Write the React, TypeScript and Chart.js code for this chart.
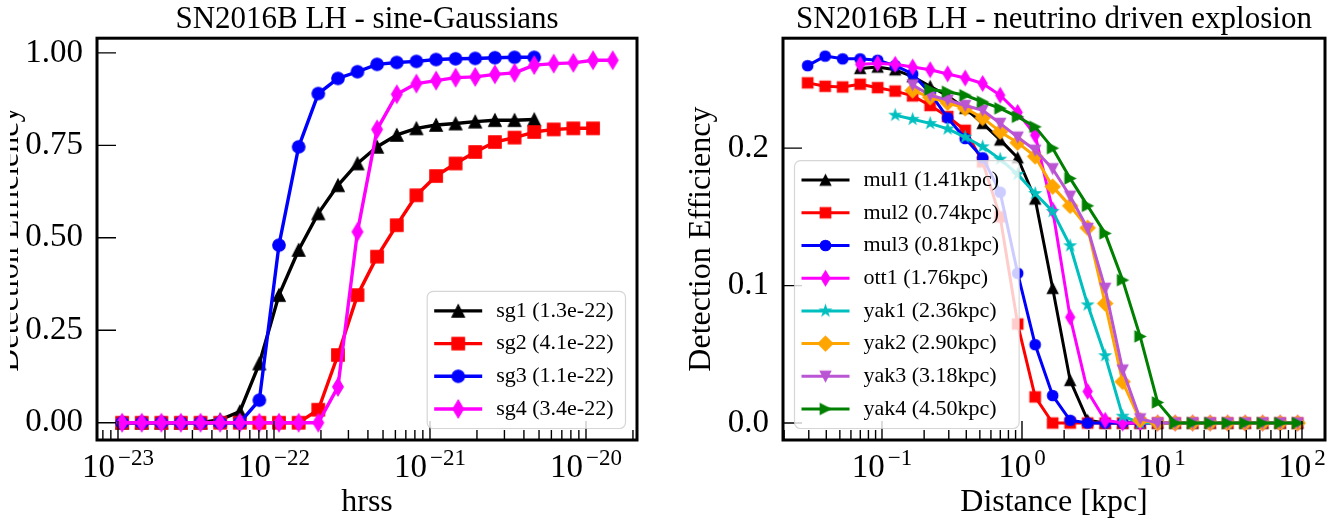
import React, { useEffect, useRef } from 'react';
import { Chart, registerables } from 'chart.js';

Chart.register(...registerables);

const FONT = '"Liberation Serif", "DejaVu Serif", serif';

// ---------------- Left panel: sine-Gaussians ----------------
const LEFT_TITLE = 'SN2016B LH - sine-Gaussians';
const LEFT_XLABEL = 'hrss';
const LEFT_YLABEL = 'Detection Efficiency';
const HRSS = [
  1.062e-23, 1.419e-23, 1.897e-23, 2.529e-23, 3.381e-23, 4.519e-23, 6.039e-23, 8.054e-23,
  1.076e-22, 1.439e-22, 1.923e-22, 2.57e-22, 3.428e-22, 4.581e-22, 6.124e-22, 8.185e-22,
  1.094e-21, 1.459e-21, 1.95e-21, 2.606e-21, 3.483e-21, 4.656e-21, 6.209e-21, 8.299e-21,
  1.109e-20, 1.483e-20,
];
const SG1 = [0, 0, 0, 0, 0, 0.008, 0.03, 0.16, 0.345, 0.467, 0.566, 0.642, 0.701, 0.746, 0.778, 0.796, 0.805, 0.809, 0.814, 0.818, 0.818, 0.82];
const SG2 = [0, 0, 0, 0, 0, 0, 0, 0, 0, 0, 0.035, 0.183, 0.345, 0.449, 0.534, 0.615, 0.667, 0.701, 0.732, 0.759, 0.771, 0.786, 0.793, 0.796, 0.796];
const SG3 = [0, 0, 0, 0, 0, 0, 0, 0.061, 0.48, 0.746, 0.89, 0.931, 0.949, 0.969, 0.974, 0.977, 0.982, 0.984, 0.985, 0.987, 0.988, 0.988];
const SG4 = [0, 0, 0, 0, 0, 0, 0, 0, 0, 0, 0, 0.097, 0.516, 0.793, 0.888, 0.917, 0.925, 0.933, 0.935, 0.942, 0.946, 0.967, 0.971, 0.973, 0.98, 0.98];
const SG_LABELS = ['sg1 (1.3e-22)', 'sg2 (4.1e-22)', 'sg3 (1.1e-22)', 'sg4 (3.4e-22)'];
const SG_COLORS = ['#000000', '#ff0000', '#0000ff', '#ff00ff'];
const SG_MARKERS = ['^', 's', 'o', 'd'];
const LEFT_Y_TICKS = [0, 0.25, 0.5, 0.75, 1.0];
const LEFT_X_EXPONENTS = [-23, -22, -21, -20];
const LEFT_X_RANGE = [7.336e-24, 2.123e-20];
const LEFT_Y_RANGE = [-0.0468, 1.0397];

// ---------------- Right panel: neutrino driven explosion ----------------
const RIGHT_TITLE = 'SN2016B LH - neutrino driven explosion';
const RIGHT_XLABEL = 'Distance [kpc]';
const RIGHT_YLABEL = 'Detection Efficiency';
const DIST = [
  0.02944, 0.03926, 0.05236, 0.06982, 0.09311, 0.1242, 0.1656, 0.2208, 0.2944, 0.3926,
  0.5236, 0.6982, 0.9311, 1.242, 1.656, 2.208, 2.944, 3.926, 5.236, 6.982, 9.311, 12.42,
  16.56, 22.08, 29.44, 39.26, 52.36, 69.82, 93.11,
];
const MUL1_D = DIST.slice(3);
const MUL1 = [0.258, 0.259, 0.257, 0.252, 0.245, 0.238, 0.229, 0.218, 0.206, 0.193, 0.163, 0.098, 0.031, 0.002, 0, 0, 0, 0, 0, 0, 0, 0, 0, 0, 0, 0];
const MUL2_D = DIST.slice(0);
const MUL2 = [0.2475, 0.245, 0.2445, 0.2465, 0.244, 0.2415, 0.238, 0.231, 0.223, 0.213, 0.19, 0.15, 0.072, 0.019, 0, 0, 0, 0, 0, 0, 0, 0, 0, 0, 0, 0, 0, 0, 0];
const MUL3_D = DIST.slice(0);
const MUL3 = [0.26, 0.267, 0.265, 0.265, 0.264, 0.26, 0.254, 0.24, 0.222, 0.207, 0.193, 0.168, 0.109, 0.057, 0.02, 0.002, 0, 0, 0, 0, 0, 0, 0, 0, 0, 0, 0, 0, 0];
const OTT1_D = DIST.slice(3);
const OTT1 = [0.261, 0.2616, 0.261, 0.259, 0.257, 0.254, 0.251, 0.247, 0.2385, 0.226, 0.2095, 0.155, 0.077, 0.023, 0.002, 0, 0, 0, 0, 0, 0, 0, 0, 0, 0, 0];
const YAK1_D = DIST.slice(5);
const YAK1 = [0.224, 0.221, 0.218, 0.214, 0.208, 0.201, 0.192, 0.181, 0.167, 0.154, 0.129, 0.086, 0.049, 0.005, 0, 0, 0, 0, 0, 0, 0, 0, 0, 0];
const YAK2_D = DIST.slice(6);
const YAK2 = [0.242, 0.237, 0.233, 0.229, 0.222, 0.212, 0.204, 0.194, 0.172, 0.158, 0.142, 0.087, 0.03, 0.002, 0, 0, 0, 0, 0, 0, 0, 0, 0];
const YAK3_D = DIST.slice(6);
const YAK3 = [0.246, 0.2385, 0.235, 0.231, 0.2276, 0.218, 0.208, 0.1985, 0.185, 0.165, 0.1416, 0.098, 0.0385, 0.003, 0, 0, 0, 0, 0, 0, 0, 0, 0];
const YAK4_D = DIST.slice(7);
const YAK4 = [0.2427, 0.241, 0.2385, 0.2337, 0.229, 0.2228, 0.2155, 0.2, 0.178, 0.158, 0.138, 0.104, 0.063, 0.015, 0, 0, 0, 0, 0, 0, 0, 0];
const NU_LABELS = ['mul1 (1.41kpc)', 'mul2 (0.74kpc)', 'mul3 (0.81kpc)', 'ott1 (1.76kpc)', 'yak1 (2.36kpc)', 'yak2 (2.90kpc)', 'yak3 (3.18kpc)', 'yak4 (4.50kpc)'];
const NU_COLORS = ['#000000', '#ff0000', '#0000ff', '#ff00ff', '#00bfbf', '#ffa500', '#ba55d3', '#008000'];
const NU_MARKERS = ['^', 's', 'o', 'd', '*', 'D', 'v', '>'];
const RIGHT_Y_TICKS = [0, 0.1, 0.2];
const RIGHT_X_EXPONENTS = [-1, 0, 1, 2];
const RIGHT_X_RANGE = [0.01963, 146.0];
const RIGHT_Y_RANGE = [-0.01236, 0.28];

// ---------------- helpers ----------------
function makeMarker(shape: string, color: string, ms: number): HTMLCanvasElement {
  const edge = 1.2;
  const size = Math.ceil(ms * 1.6 + 4);
  const c = document.createElement('canvas');
  c.width = size;
  c.height = size;
  const g = c.getContext('2d') as CanvasRenderingContext2D;
  const m = size / 2;
  const h = ms / 2;
  g.fillStyle = color;
  g.strokeStyle = color;
  g.lineWidth = edge;
  g.lineJoin = 'miter';
  g.beginPath();
  if (shape === 'o') {
    g.arc(m, m, h, 0, Math.PI * 2);
  } else if (shape === 's') {
    g.rect(m - h, m - h, ms, ms);
  } else if (shape === '^') {
    g.moveTo(m, m - h); g.lineTo(m + h, m + h); g.lineTo(m - h, m + h);
  } else if (shape === 'v') {
    g.moveTo(m, m + h); g.lineTo(m + h, m - h); g.lineTo(m - h, m - h);
  } else if (shape === '>') {
    g.moveTo(m + h, m); g.lineTo(m - h, m - h); g.lineTo(m - h, m + h);
  } else if (shape === 'd') {
    const dy = ms * 0.707, dx = dy * 0.6;
    g.moveTo(m, m - dy); g.lineTo(m + dx, m); g.lineTo(m, m + dy); g.lineTo(m - dx, m);
  } else if (shape === 'D') {
    const d = ms * 0.707;
    g.moveTo(m, m - d); g.lineTo(m + d, m); g.lineTo(m, m + d); g.lineTo(m - d, m);
  } else if (shape === '*') {
    const ro = h * 1.05, ri = ro * 0.382;
    for (let i = 0; i < 10; i++) {
      const r = i % 2 === 0 ? ro : ri;
      const ang = -Math.PI / 2 + (i * Math.PI) / 5;
      const px = m + r * Math.cos(ang), py = m + r * Math.sin(ang);
      if (i === 0) g.moveTo(px, py); else g.lineTo(px, py);
    }
  }
  g.closePath();
  g.fill();
  g.stroke();
  return c;
}

function drawPow(ctx: CanvasRenderingContext2D, x: number, baseY: number, exp: number) {
  const base = '10';
  const sup = exp < 0 ? '\u2212' + Math.abs(exp) : String(exp);
  ctx.font = `33px ${FONT}`;
  const wb = ctx.measureText(base).width;
  ctx.font = `23px ${FONT}`;
  const ws = ctx.measureText(sup).width;
  const gap = 3;
  const x0 = x - (wb + gap + ws) / 2;
  ctx.textAlign = 'left';
  ctx.textBaseline = 'alphabetic';
  ctx.font = `33px ${FONT}`;
  ctx.fillText(base, x0, baseY);
  ctx.font = `23px ${FONT}`;
  ctx.fillText(sup, x0 + wb + gap, baseY - 12);
}

const axesDecor = {
  id: 'axesDecor',
  afterDatasetsDraw(chart: any, _args: any, opts: any) {
    const { ctx, chartArea: a } = chart;
    const xs = chart.scales.x;
    const ys = chart.scales.y;
    ctx.save();
    ctx.strokeStyle = '#000';
    ctx.lineWidth = 1.4;
    ctx.beginPath();
    for (const v of opts.yTicks) {
      const y = ys.getPixelForValue(v);
      ctx.moveTo(a.left, y);
      ctx.lineTo(a.left + 19, y);
    }
    const exps: number[] = opts.xExps;
    for (let e = exps[0] - 1; e <= exps[exps.length - 1] + 1; e++) {
      for (let m = 1; m <= 9; m++) {
        const v = m * Math.pow(10, e);
        if (v < xs.min || v > xs.max) continue;
        const x = xs.getPixelForValue(v);
        ctx.moveTo(x, a.bottom);
        ctx.lineTo(x, a.bottom - (m === 1 ? 19 : 10));
      }
    }
    ctx.stroke();
    ctx.lineWidth = 3;
    ctx.strokeRect(a.left, a.top, a.right - a.left, a.bottom - a.top);
    ctx.fillStyle = '#000';
    for (const e of exps) drawPow(ctx, xs.getPixelForValue(Math.pow(10, e)), opts.labelBaseline, e);
    ctx.restore();
  },
};

const mplLegend = {
  id: 'mplLegend',
  afterDraw(chart: any, _args: any, opts: any) {
    const { ctx, chartArea: a } = chart;
    const ds = chart.data.datasets;
    ctx.save();
    ctx.font = `22px ${FONT}`;
    let tw = 0;
    for (const d of ds) tw = Math.max(tw, ctx.measureText(d.label).width);
    const padL = 7, handle = 48, gap = 14, padR = opts.padR, row = 32.7, padV = 19.5;
    const w = padL + handle + gap + tw + padR;
    const h = padV * 2 + row * (ds.length - 1);
    const x0 = opts.corner === 'lowerRight' ? a.right - opts.inset - w : a.left + opts.inset;
    const y0 = a.bottom - opts.inset - h;
    const r = 6;
    ctx.beginPath();
    ctx.moveTo(x0 + r, y0);
    ctx.lineTo(x0 + w - r, y0);
    ctx.arcTo(x0 + w, y0, x0 + w, y0 + r, r);
    ctx.lineTo(x0 + w, y0 + h - r);
    ctx.arcTo(x0 + w, y0 + h, x0 + w - r, y0 + h, r);
    ctx.lineTo(x0 + r, y0 + h);
    ctx.arcTo(x0, y0 + h, x0, y0 + h - r, r);
    ctx.lineTo(x0, y0 + r);
    ctx.arcTo(x0, y0, x0 + r, y0, r);
    ctx.closePath();
    ctx.fillStyle = 'rgba(255,255,255,0.8)';
    ctx.fill();
    ctx.strokeStyle = 'rgba(204,204,204,0.8)';
    ctx.lineWidth = 1.2;
    ctx.stroke();
    ds.forEach((d: any, i: number) => {
      const cy = y0 + padV + i * row;
      ctx.beginPath();
      ctx.strokeStyle = d.borderColor;
      ctx.lineWidth = d.borderWidth;
      ctx.moveTo(x0 + padL, cy);
      ctx.lineTo(x0 + padL + handle, cy);
      ctx.stroke();
      const img = d.pointStyle as HTMLCanvasElement;
      ctx.drawImage(img, x0 + padL + handle / 2 - img.width / 2, cy - img.height / 2);
      ctx.fillStyle = '#000';
      ctx.textAlign = 'left';
      ctx.textBaseline = 'middle';
      ctx.font = `22px ${FONT}`;
      ctx.fillText(d.label, x0 + padL + handle + gap, cy);
    });
    ctx.restore();
  },
};

function buildConfig(p: any) {
  const datasets = p.series.map((s: any, i: number) => ({
    label: s.label,
    data: s.x.map((x: number, j: number) => ({ x, y: s.y[j] })),
    borderColor: s.color,
    backgroundColor: s.color,
    borderWidth: p.lineWidth,
    borderJoinStyle: 'round',
    pointStyle: makeMarker(s.marker, s.color, p.markerSize),
    pointRadius: 5,
    pointHoverRadius: 5,
    tension: 0,
    order: -i,
  }));
  return {
    type: 'line',
    data: { datasets },
    plugins: [axesDecor, mplLegend],
    options: {
      responsive: false,
      animation: false,
      events: [],
      devicePixelRatio: 1,
      layout: { padding: { left: 0, right: p.padRight, top: 0, bottom: 0 } },
      plugins: {
        legend: { display: false },
        tooltip: { enabled: false },
        title: {
          display: true,
          text: p.title,
          color: '#000',
          fullSize: false,
          font: { size: 31, family: FONT, weight: 'normal' },
          padding: { top: 1, bottom: 0 },
        },
        axesDecor: { yTicks: p.yTicks, xExps: p.xExps, labelBaseline: 477 },
        mplLegend: { corner: p.legendCorner, inset: 11.5, padR: p.legendPadR },
      },
      scales: {
        x: {
          type: 'logarithmic',
          min: p.xRange[0],
          max: p.xRange[1],
          grid: { display: false, drawTicks: false },
          border: { display: false },
          ticks: { display: false },
          title: {
            display: true,
            text: p.xLabel,
            color: '#000',
            font: { size: 32, family: FONT },
            padding: { top: 0, bottom: 3 },
          },
          afterFit: (scale: any) => { scale.height = 85; },
        },
        y: {
          type: 'linear',
          min: p.yRange[0],
          max: p.yRange[1],
          grid: { display: false, drawTicks: false },
          border: { display: false },
          afterBuildTicks: (scale: any) => { scale.ticks = p.yTicks.map((v: number) => ({ value: v })); },
          ticks: {
            color: '#000',
            padding: 14,
            font: { size: 33, family: FONT },
            callback: (v: number) => Number(v).toFixed(p.yDecimals),
          },
          title: {
            display: true,
            text: p.yLabel,
            color: '#000',
            font: { size: 32, family: FONT },
            padding: { top: p.yTitleOffset, bottom: 0 },
          },
          afterFit: (scale: any) => { scale.width = p.yAxisWidth; },
        },
      },
    },
  };
}

export default function App() {
  const leftRef = useRef<HTMLCanvasElement>(null);
  const rightRef = useRef<HTMLCanvasElement>(null);

  useEffect(() => {
    Chart.defaults.font.family = FONT;
    Chart.defaults.color = '#000';
    const leftSeries = [SG1, SG2, SG3, SG4].map((y, i) => ({
      label: SG_LABELS[i], x: HRSS.slice(0, y.length), y, color: SG_COLORS[i], marker: SG_MARKERS[i],
    }));
    const rightX = [MUL1_D, MUL2_D, MUL3_D, OTT1_D, YAK1_D, YAK2_D, YAK3_D, YAK4_D];
    const rightSeries = [MUL1, MUL2, MUL3, OTT1, YAK1, YAK2, YAK3, YAK4].map((y, i) => ({
      label: NU_LABELS[i], x: rightX[i].slice(0, y.length), y, color: NU_COLORS[i], marker: NU_MARKERS[i],
    }));
    const left = new Chart(leftRef.current as HTMLCanvasElement, buildConfig({
      series: leftSeries, title: LEFT_TITLE, xLabel: LEFT_XLABEL, yLabel: LEFT_YLABEL,
      xRange: LEFT_X_RANGE, yRange: LEFT_Y_RANGE, yTicks: LEFT_Y_TICKS, xExps: LEFT_X_EXPONENTS,
      yDecimals: 2, yAxisWidth: 87, yTitleOffset: -19.2, padRight: 23, lineWidth: 3.4, markerSize: 12.5,
      legendCorner: 'lowerRight', legendPadR: 12,
    }) as any);
    const right = new Chart(rightRef.current as HTMLCanvasElement, buildConfig({
      series: rightSeries, title: RIGHT_TITLE, xLabel: RIGHT_XLABEL, yLabel: RIGHT_YLABEL,
      xRange: RIGHT_X_RANGE, yRange: RIGHT_Y_RANGE, yTicks: RIGHT_Y_TICKS, xExps: RIGHT_X_EXPONENTS,
      yDecimals: 1, yAxisWidth: 123, yTitleOffset: 22.8, padRight: 8, lineWidth: 3, markerSize: 10.5,
      legendCorner: 'lowerLeft', legendPadR: 20,
    }) as any);
    return () => { left.destroy(); right.destroy(); };
  }, []);

  return (
    <div style={{ position: 'fixed', left: 0, top: 0, width: 1333, height: 525, background: '#fff', overflow: 'hidden' }}>
      <canvas ref={leftRef} width={650} height={525} style={{ position: 'absolute', left: 10, top: 0, width: 650, height: 525 }} />
      <canvas ref={rightRef} width={673} height={525} style={{ position: 'absolute', left: 660, top: 0, width: 673, height: 525 }} />
    </div>
  );
}
